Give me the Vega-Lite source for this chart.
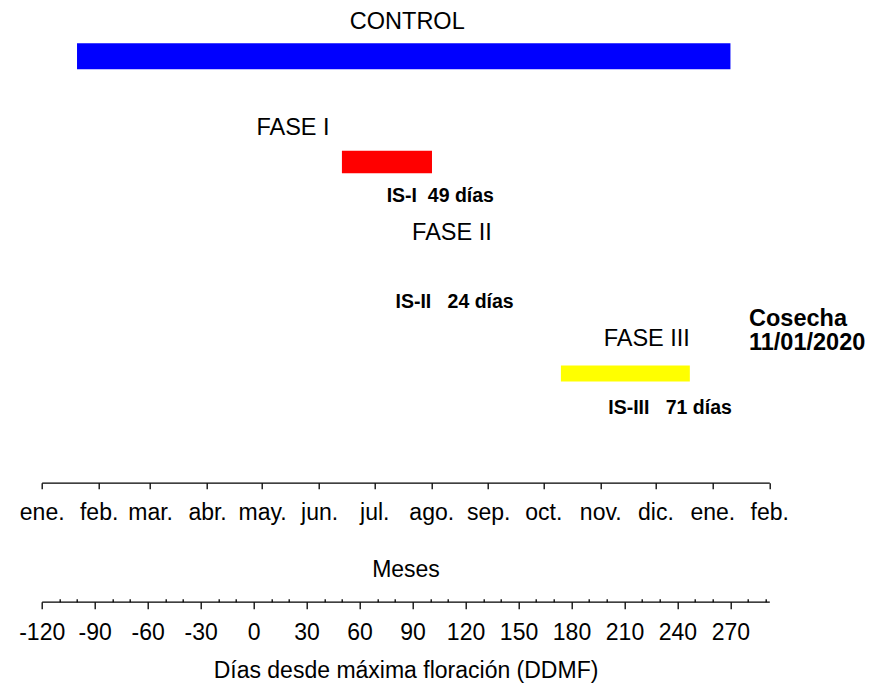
{
  "$schema": "https://vega.github.io/schema/vega-lite/v6.json",
  "width": 727.6,
  "height": 482.7,
  "autosize": {"type": "none"},
  "padding": {"left": 41.7, "top": 0, "right": 102.7, "bottom": 200.3},
  "background": "white",
  "config": {"view": {"stroke": null}, "font": "Liberation Sans"},
  "datasets": {
    "fases": [
      {"fase": "CONTROL", "inicio": -100, "fin": 270},
      {"fase": "FASE I", "inicio": 50, "fin": 101},
      {"fase": "FASE III", "inicio": 174, "fin": 247}
    ],
    "etiquetas": [
      {"fase": "CONTROL", "tipo": "titulo", "texto": "CONTROL", "dia": 87},
      {"fase": "FASE I", "tipo": "titulo", "texto": "FASE I", "dia": 22.3},
      {"fase": "FASE II", "tipo": "titulo", "texto": "FASE II", "dia": 112.3},
      {"fase": "FASE III", "tipo": "titulo", "texto": "FASE III", "dia": 222.6},
      {"fase": "FASE I", "tipo": "intervalo", "texto": "IS-I\u00a0\u00a049 días", "dia": 105.7},
      {"fase": "FASE II", "tipo": "intervalo", "texto": "IS-II\u00a0\u00a0\u00a024 días", "dia": 113.8},
      {"fase": "FASE III", "tipo": "intervalo", "texto": "IS-III\u00a0\u00a0\u00a071 días", "dia": 235.8},
      {"fase": "FASE III", "tipo": "cosecha", "texto": "Cosecha\n11/01/2020", "dia": 280.5}
    ],
    "meses": [
      {"mes": "2019-01-01"}, {"mes": "2019-02-01"}, {"mes": "2019-03-01"}, {"mes": "2019-04-01"},
      {"mes": "2019-05-01"}, {"mes": "2019-06-01"}, {"mes": "2019-07-01"}, {"mes": "2019-08-01"},
      {"mes": "2019-09-01"}, {"mes": "2019-10-01"}, {"mes": "2019-11-01"}, {"mes": "2019-12-01"},
      {"mes": "2020-01-01"}, {"mes": "2020-02-01"}
    ]
  },
  "layer": [
    {
      "data": {"name": "fases"},
      "mark": {"type": "bar"},
      "encoding": {
        "x": {
          "field": "inicio", "type": "quantitative",
          "scale": {"domain": [-120, 292], "nice": false, "zero": false},
          "axis": {
            "title": "Días desde máxima floración (DDMF)",
            "orient": "bottom",
            "offset": 119,
            "values": [-120,-90,-60,-30,0,30,60,90,120,150,180,210,240,270],
            "labelExpr": "'' + datum.value",
            "tickSize": 7,
            "labelPadding": 13,
            "labelFont": "Liberation Sans",
            "labelFontSize": 23,
            "labelColor": "black",
            "labelFlush": false,
            "labelOverlap": false,
            "labelBound": false,
            "grid": false,
            "domainColor": "black",
            "domainWidth": 1.3,
            "tickColor": "black",
            "tickWidth": 1.3,
            "titleFont": "Liberation Sans",
            "titleFontSize": 23,
            "titleFontWeight": "normal",
            "titleColor": "black",
            "titleBaseline": "alphabetic",
            "titleY": 75.3
          }
        },
        "x2": {"field": "fin"},
        "y": {
          "field": "fase", "type": "nominal",
          "scale": {"type": "band", "domain": ["CONTROL", "FASE I", "FASE II", "FASE III"], "paddingInner": 0, "paddingOuter": 0.2834, "align": 0.0576},
          "axis": null
        },
        "size": {"field": "fase", "type": "ordinal", "scale": {"domain": ["CONTROL", "FASE I", "FASE II", "FASE III"], "range": [26, 16, 12, 8]}, "legend": null},
        "color": {"field": "fase", "type": "nominal", "scale": {"domain": ["CONTROL", "FASE I", "FASE II", "FASE III"], "range": ["#0000ff", "#ff0000", "#00a000", "#ffff00"]}, "legend": null}
      }
    },
    {
      "data": {"name": "etiquetas"},
      "transform": [{"filter": "datum.tipo === 'titulo'"}],
      "mark": {"type": "text", "font": "Liberation Sans", "fontSize": 23.5, "color": "black", "align": "center", "baseline": "middle", "dy": -34.3},
      "encoding": {
        "x": {"field": "dia", "type": "quantitative", "scale": {"domain": [-120, 292], "nice": false, "zero": false}, "axis": null},
        "y": {"field": "fase", "type": "nominal", "axis": null},
        "text": {"field": "texto"}
      }
    },
    {
      "data": {"name": "etiquetas"},
      "transform": [{"filter": "datum.tipo === 'intervalo'"}],
      "mark": {"type": "text", "font": "Liberation Sans", "fontSize": 19.5, "fontWeight": "bold", "color": "black", "align": "center", "baseline": "middle", "dy": 34.4},
      "encoding": {
        "x": {"field": "dia", "type": "quantitative", "scale": {"domain": [-120, 292], "nice": false, "zero": false}, "axis": null},
        "y": {"field": "fase", "type": "nominal", "axis": null},
        "text": {"field": "texto"}
      }
    },
    {
      "data": {"name": "etiquetas"},
      "transform": [{"filter": "datum.tipo === 'cosecha'"}],
      "mark": {"type": "text", "font": "Liberation Sans", "fontSize": 23.5, "fontWeight": "bold", "color": "black", "align": "left", "baseline": "top", "lineBreak": "\n", "lineHeight": 24, "dy": -66},
      "encoding": {
        "x": {"field": "dia", "type": "quantitative", "scale": {"domain": [-120, 292], "nice": false, "zero": false}, "axis": null},
        "y": {"field": "fase", "type": "nominal", "axis": null},
        "text": {"field": "texto"}
      }
    },
    {
      "data": {"name": "fases"},
      "mark": {"type": "tick", "opacity": 0},
      "encoding": {
        "x": {
          "field": "inicio", "type": "quantitative",
          "scale": {"domain": [-120, 292], "nice": false, "zero": false},
          "axis": {
            "title": null,
            "orient": "bottom",
            "offset": 119,
            "values": [-110,-100,-80,-70,-50,-40,-20,-10,10,20,40,50,70,80,100,110,130,140,160,170,190,200,220,230,250,260,280,290],
            "tickSize": -3,
            "labels": false,
            "domain": false,
            "grid": false,
            "tickColor": "black",
            "tickWidth": 1.3
          }
        }
      }
    },
    {
      "data": {"name": "meses"},
      "mark": {"type": "tick", "opacity": 0},
      "encoding": {
        "x": {
          "field": "mes", "type": "temporal",
          "scale": {"type": "utc", "domain": [{"year": 2019, "month": 1, "date": 1, "utc": true}, {"year": 2020, "month": 2, "date": 1, "utc": true}]},
          "axis": {
            "title": "Meses",
            "orient": "bottom",
            "offset": 0,
            "tickCount": {"interval": "month", "step": 1},
            "labelExpr": "['ene.','feb.','mar.','abr.','may.','jun.','jul.','ago.','sep.','oct.','nov.','dic.'][utcmonth(datum.value)]",
            "tickSize": 6,
            "labelPadding": 13,
            "labelFont": "Liberation Sans",
            "labelFontSize": 23,
            "labelColor": "black",
            "labelFlush": false,
            "labelOverlap": false,
            "labelBound": false,
            "grid": false,
            "domainColor": "black",
            "domainWidth": 1.3,
            "tickColor": "black",
            "tickWidth": 1.3,
            "titleFont": "Liberation Sans",
            "titleFontSize": 23,
            "titleFontWeight": "normal",
            "titleColor": "black",
            "titleBaseline": "alphabetic",
            "titleY": 94
          }
        }
      }
    }
  ],
  "resolve": {"scale": {"x": "independent"}, "axis": {"x": "independent"}}
}
